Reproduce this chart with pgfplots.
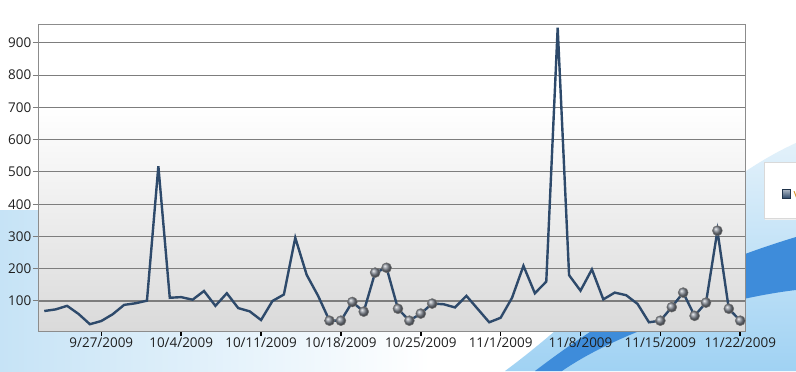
\documentclass[border=0pt]{standalone}
\usepackage{pgfplots}
\pgfplotsset{compat=1.18}
\usepackage{pgfplotstable}
\usepackage{fontspec}
\setmainfont{Open Sans}
\definecolor{linecol}{RGB}{46,74,107}
\definecolor{gridcol}{RGB}{125,125,125}
\definecolor{lightblue}{RGB}{198,227,246}
\definecolor{midblue}{RGB}{160,210,243}
\definecolor{darkblue}{RGB}{62,140,218}
\definecolor{legorange}{RGB}{215,140,30}
\definecolor{ballcol}{RGB}{130,136,146}
\definecolor{plotgray}{RGB}{218,218,218}

\pgfplotstableread{
day value
-5 69
-4 74
-3 85
-2 60
-1 28
0 38
1 59
2 88
3 93
4 101
5 518
6 110
7 112
8 104
9 131
10 85
11 124
12 78
13 68
14 41
15 100
16 120
17 296
18 181
19 116
20 39
21 39
22 97
23 67
24 188
25 203
26 76
27 39
28 61
29 92
30 90
31 80
32 116
33 75
34 34
35 48
36 110
37 209
38 124
39 160
40 947
41 180
42 132
43 198
44 105
45 126
46 118
47 91
48 34
49 39
50 81
51 126
52 54
53 95
54 318
55 76
56 39
}\visits

\begin{document}
\begin{tikzpicture}[x=1bp,y=1bp]
\path[use as bounding box] (0,0) rectangle (796,371);
\begin{scope}
\clip (0,0) rectangle (796,371);
\fill[white] (0,0) rectangle (796,371);
% left light-blue wash
\shade[left color=lightblue, right color=white] (0,0) rectangle (430,161);
% right swooshes
\shade[top color=lightblue!50, bottom color=midblue] (505,0) .. controls (600,70) and (700,185) .. (796,228) -- (796,0) -- cycle;
\fill[darkblue] (535,0) .. controls (620,65) and (700,105) .. (796,134) -- (796,81) .. controls (720,72) and (620,40) .. (562,0) -- cycle;
% legend (cut off at the right)
\fill[black!6] (765,151) rectangle (800,208);
\draw[black!15, fill=white] (764,152.5) rectangle (800,209);
\shade[top color=linecol!40, bottom color=linecol, draw=linecol!70!black] (782,173) rectangle (790,181.5);
\node[anchor=west, text=legorange, inner sep=0pt] at (793.5,177.5) {\fontsize{13}{15}\selectfont visits};
\end{scope}
% plot area background
\fill[white] (38,40) rectangle (745,346.5);
\shade[top color=white, bottom color=plotgray] (38,40) rectangle (745,265);
\begin{axis}[
  at={(38bp,40bp)}, anchor=south west,
  scale only axis, width=707bp, height=306.5bp,
  xmin=-5.55, xmax=56.42, ymin=7, ymax=957,
  xtick={0,7,...,56},
  xticklabels={9/27/2009,10/4/2009,10/11/2009,10/18/2009,10/25/2009,11/1/2009,11/8/2009,11/15/2009,11/22/2009},
  ytick={100,200,...,900},
  ymajorgrids,
  major grid style={gridcol, line width=1.1bp},
  axis line style={draw=black!45, line width=1bp},
  tick align=outside,
  xtick pos=left, ytick pos=left,
  x tick style={black, line width=1.6bp},
  y tick style={gridcol, line width=1bp},
  major tick length=5bp,
  tick label style={font=\fontsize{13.5}{15}\selectfont, text=black!88},
  /pgf/number format/assume math mode=true,
  yticklabel style={inner sep=1.5bp},
  xticklabel style={inner sep=2bp},
  clip=false,
]
\addplot[linecol, line width=2.4bp,
  mark=ball, mark size=5bp,
  mark options={ball color=ballcol, draw=black!55, line width=0.5bp},
  mark indices={26,27,28,29,30,31,32,33,34,35,55,56,57,58,59,60,61,62}]
  table[x=day, y=value] {\visits};
\end{axis}
\end{tikzpicture}
\end{document}
